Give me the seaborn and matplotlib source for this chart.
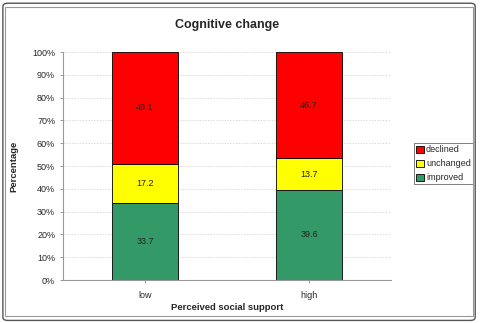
import matplotlib
matplotlib.use("Agg")
import matplotlib.pyplot as plt
from matplotlib.patches import FancyBboxPatch, Rectangle
import seaborn as sns
import pandas as pd

# data
support = ["low", "high"]
improved = [33.7, 39.6]
unchanged = [17.2, 13.7]
declined = [49.1, 46.7]

series = ["improved", "unchanged", "declined"]
colors = {"improved": "#339966", "unchanged": "#FFFF00", "declined": "#FF0000"}

df = pd.DataFrame({"support": support, "improved": improved,
                   "unchanged": unchanged, "declined": declined})

sns.set_style("white")
plt.rcParams["font.family"] = ["Liberation Sans", "DejaVu Sans"]

fig = plt.figure(figsize=(4.8, 3.23), dpi=100)
ax = fig.add_axes([0.131, 0.133, 0.684, 0.706])

# outer frame of the chart
fig.patches.append(FancyBboxPatch((0.006, 0.008), 0.984, 0.982,
                                  boxstyle="round,pad=0,rounding_size=0.01",
                                  transform=fig.transFigure, fill=False,
                                  edgecolor="#555555", linewidth=1.0))
fig.patches.append(Rectangle((0.011, 0.022), 0.974, 0.955,
                             transform=fig.transFigure, fill=False,
                             edgecolor="#999999", linewidth=0.8))

ax.yaxis.grid(True, linestyle=(0, (2, 2)), color="#cccccc", linewidth=0.5)
ax.set_axisbelow(True)

bottom = pd.Series([0.0] * len(df))
for s in series:
    sns.barplot(x=df["support"], y=df[s], bottom=bottom, color=colors[s],
                saturation=1, width=0.4, edgecolor="black", linewidth=0.6,
                ax=ax, label=s)
    for i, (v, b) in enumerate(zip(df[s], bottom)):
        ax.text(i, b + v / 2, f"{v:.1f}", ha="center", va="center",
                fontsize=6.5, color="#222222")
    bottom = bottom + df[s]

ax.set_ylim(0, 100)
ax.set_xlim(-0.5, 1.5)
ax.set_yticks(range(0, 101, 10))
ax.set_yticklabels([f"{t}%" for t in range(0, 101, 10)])
ax.tick_params(axis="both", labelsize=6.5, length=2, width=0.6, color="#888888",
               left=True, bottom=True)
ax.tick_params(axis="x", pad=6)

for side in ["top", "right"]:
    ax.spines[side].set_visible(False)
for side in ["left", "bottom"]:
    ax.spines[side].set_color("#999999")
    ax.spines[side].set_linewidth(0.8)

ax.set_xlabel("Perceived social support", fontsize=6.8, fontweight="bold",
              labelpad=2)
ax.set_ylabel("Percentage", fontsize=6.8, fontweight="bold", labelpad=10)
ax.set_title("Cognitive change", fontsize=9, fontweight="bold", pad=17)

handles, labels = ax.get_legend_handles_labels()
leg = ax.legend(handles[::-1], labels[::-1], loc="center left",
                bbox_to_anchor=(1.07, 0.51), fontsize=6.5, frameon=True,
                fancybox=False, edgecolor="#444444", handlelength=0.8,
                handleheight=0.8, handletextpad=0.25, borderpad=0.25,
                labelspacing=0.55, borderaxespad=0)
leg.get_frame().set_linewidth(0.6)

fig.savefig("out.png", dpi=100)
